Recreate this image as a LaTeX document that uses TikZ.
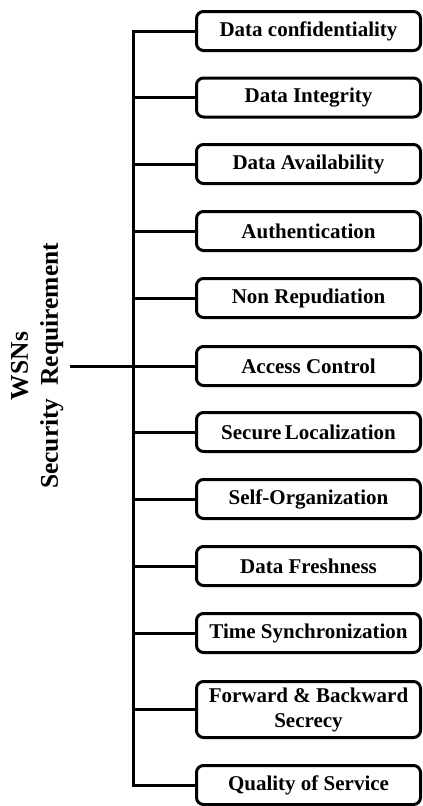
\documentclass[tikz,border=0pt]{standalone}
\usepackage{fontspec}
\setmainfont{Liberation Serif}
\begin{document}
\begin{tikzpicture}[x=1pt,y=-1pt,
  reqbox/.style={draw, line width=3pt, rounded corners=7pt, minimum width=224pt,
    minimum height=39pt, inner sep=0pt, align=center,
    font=\fontsize{21}{25}\selectfont\bfseries},
  conn/.style={line width=3pt, line join=miter},
  mainlbl/.style={rotate=90, anchor=south, align=center, inner xsep=0pt, inner ysep=6.5pt,
    font=\fontsize{25.5}{30}\selectfont\bfseries}]
\useasboundingbox (0,0) rectangle (423,806);
\coordinate (T) at (133,366);
\node[reqbox] (b1) at (308.5,31) {Data confidentiality};
\node[reqbox] (b2) at (308.5,97.5) {Data Integrity};
\node[reqbox] (b3) at (308.5,164) {Data Availability};
\node[reqbox] (b4) at (308.5,231) {Authentication};
\node[reqbox] (b5) at (308.5,298) {Non Repudiation};
\node[reqbox] (b6) at (308.5,366) {Access Control};
\node[reqbox] (b7) at (308.5,432) {Secure\,Localization};
\node[reqbox] (b8) at (308.5,499) {Self-Organization};
\node[reqbox] (b9) at (308.5,566) {Data Freshness};
\node[reqbox] (b10) at (308.5,633) {Time Synchronization};
\node[reqbox, minimum height=56pt] (b11) at (308.5,709.5) {Forward \& Backward\\Secrecy};
\node[reqbox] (b12) at (308.5,785) {Quality of Service};
\node[mainlbl] (lbl) at (70,366) {WSNs\\Security\ \ Requirement};
\draw[conn] (b1.west) -| (b12.west -| T) -- (b12.west);
\foreach \i in {2,...,11} { \draw[conn] (b\i.west) -- (b\i.west -| T); }
\draw[conn] (lbl.south) -- (T);
\end{tikzpicture}
\end{document}
